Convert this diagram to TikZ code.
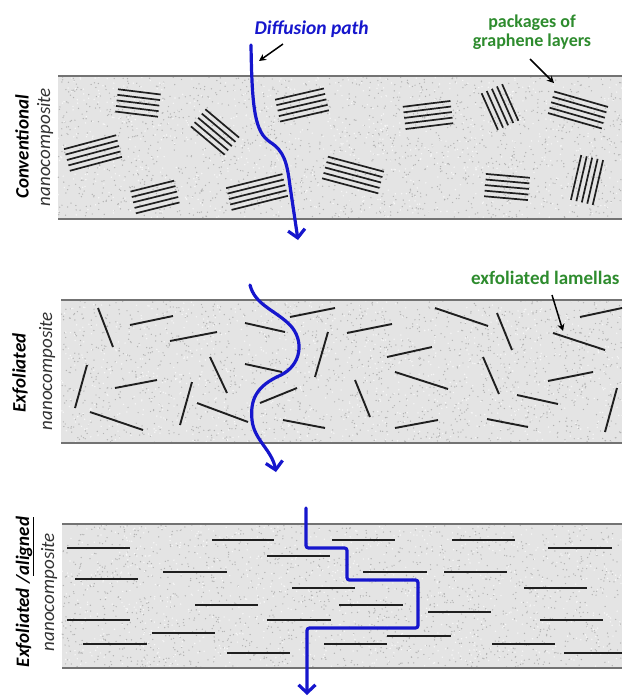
\documentclass[tikz,border=0pt]{standalone}
\usepackage{fontspec}
\setmainfont{Carlito}
\usetikzlibrary{arrows.meta}
\definecolor{pathblue}{RGB}{22,22,205}
\definecolor{labelgreen}{RGB}{46,140,46}
\definecolor{matrixfill}{RGB}{228,228,228}
\definecolor{speckgray}{RGB}{178,178,178}
\definecolor{speckwhite}{RGB}{246,246,246}
\definecolor{rimgray}{RGB}{115,115,115}
\tikzset{
  panelfill/.style={fill=matrixfill, draw=none},
  rim/.style={draw=rimgray, line width=2.6pt},
  speck/.style={fill=speckgray},
  specklight/.style={fill=speckwhite},
  lamella/.style={draw=black!88, line width=1.9pt},
  sheet/.style={draw=black!88, line width=1.7pt},
  diffusion/.style={draw=pathblue, line width=3.2pt, line cap=round,
    -{Straight Barb[length=8pt,width=17pt,line width=3.2pt]}},
  pointer/.style={draw=black, line width=1.5pt, -{Stealth[length=7pt,width=7pt]}},
  sidebold/.style={rotate=90, font=\fontsize{19}{21}\selectfont\bfseries\itshape},
  sideital/.style={rotate=90, font=\fontsize{19}{21}\selectfont\itshape, text=black!80},
  greenlabel/.style={text=labelgreen, font=\fontsize{18}{23}\selectfont\bfseries, align=center},
}
% a package of stacked graphene sheets: centre x, centre y, angle, sheet length
\newcommand\sheetstack[4]{%
  \begin{scope}[shift={(#1,#2)}, rotate=#3]
    \foreach \k in {-2,...,2}
      \draw[sheet] ({-#4/2},{\k*5.6}) -- ({#4/2},{\k*5.6});
  \end{scope}}
% a speckled matrix band between two rims
\newcommand\matrixband[3]{%
  \fill[panelfill] (#1,#2) rectangle (622,#3);
  \foreach \i in {1,...,1600}
    \fill[speck] ({#1+(622-#1)*rnd},{#2+(#3-#2)*rnd}) circle (0.7);
  \foreach \i in {1,...,900}
    \fill[specklight] ({#1+(622-#1)*rnd},{#2+(#3-#2)*rnd}) circle (0.8);
  \draw[rim] (#1,#2) -- (622,#2);
  \draw[rim] (#1,#3) -- (622,#3);}
\begin{document}
\begin{tikzpicture}[x=1pt,y=-1pt]
\pgfmathsetseed{4711}
\useasboundingbox (0,0) rectangle (622,697);
\fill[white] (0,0) rectangle (622,697);

% ---------- conventional nanocomposite ----------
\matrixband{58}{76}{219}
\sheetstack{138}{103}{-7}{43}
\sheetstack{215}{132}{-40}{44}
\sheetstack{93}{153}{15}{54}
\sheetstack{155}{197}{14}{45}
\sheetstack{257}{192}{14}{58}
\sheetstack{302}{105}{13}{50}
\sheetstack{428}{115}{7}{48}
\sheetstack{500}{107}{-66}{40}
\sheetstack{578}{110}{-16}{56}
\sheetstack{353}{175}{-15}{58}
\sheetstack{507}{187}{-5}{44}
\sheetstack{587}{180}{77}{46}

\node[sidebold] (convA) at (22,147) {Conventional};
\node[sideital] (convB) at (45,147) {nanocomposite};

\node[text=pathblue, font=\fontsize{19.5}{21}\selectfont\bfseries\itshape, anchor=west] (difflabel) at (251,29) {Diffusion path};
\coordinate (diffpoint) at (259,61);
\draw[pointer] (283,44) -- (diffpoint);

\node[greenlabel] (pkglabel) at (532,32) {packages of\\[-4pt]graphene layers};
\coordinate (pkgpoint) at (554,83);
\draw[pointer] (530,59) -- (pkgpoint);

\coordinate (topin) at (251,45);
\coordinate (topout) at (298,240);
\draw[diffusion] (topin) .. controls (252,110) and (255,132) .. (270,142)
  .. controls (284,151) and (287,162) .. (290,186) -- (topout);

% ---------- exfoliated nanocomposite ----------
\matrixband{61}{300}{443}
\foreach \a/\b/\c/\d in {
  98/308/113/347, 130/325/173/316, 170/341/217/332, 245/323/285/332,
  290/317/335/308, 87/365/75/408, 115/388/157/380, 210/357/227/393,
  245/364/282/372, 315/377/328/332, 192/382/180/425, 197/403/248/422,
  260/403/297/388, 90/412/143/430, 283/420/325/428, 347/333/392/324,
  435/308/488/326, 497/313/512/350, 580/317/622/308, 553/333/605/350,
  387/357/432/347, 395/372/448/389, 483/357/499/394, 548/381/593/372,
  355/380/370/417, 517/395/558/404, 605/432/617/388, 395/428/438/420,
  487/419/528/427}
  \draw[lamella] (\a,\b) -- (\c,\d);

\node[sidebold] (exfA) at (20,373) {Exfoliated};
\node[sideital] (exfB) at (47,371) {nanocomposite};

\node[greenlabel, font=\fontsize{19}{23}\selectfont\bfseries, anchor=east] (lamlabel) at (623,278) {exfoliated lamellas};
\coordinate (lampoint) at (563,331);
\draw[pointer] (552,295) -- (lampoint);

\coordinate (midin) at (250,285);
\coordinate (midout) at (276,472);
\draw[diffusion] (midin) .. controls (255,305) and (275,310) .. (290,325)
  .. controls (305,341) and (301,365) .. (281,375)
  .. controls (256,386) and (250,400) .. (252,420)
  .. controls (254,440) and (272,450) .. (midout);

% ---------- exfoliated / aligned nanocomposite ----------
\matrixband{62}{524}{668}
\foreach \a/\b/\y in {
  67/130/548, 75/138/579, 67/130/620, 83/147/644, 163/227/572,
  212/274/540, 195/258/605, 152/215/633, 267/330/556, 292/355/588,
  267/331/620, 227/290/653, 332/395/540, 363/427/572, 339/403/605,
  387/451/636, 324/387/644, 452/515/540, 444/507/572, 428/491/612,
  492/555/644, 548/612/548, 524/587/588, 540/603/620, 564/622/653}
  \draw[lamella] (\a,\y) -- (\b,\y);

\node[sidebold] (aliA) at (25,592) {Exfoliated /\underline{aligned}};
\node[sideital] (aliB) at (49,592) {nanocomposite};

\coordinate (lowin) at (306,508);
\coordinate (lowout) at (307,695);
\draw[diffusion, rounded corners=2.5pt] (lowin) -- (306,548) -- (347,548) -- (347,580)
  -- (418,580) -- (418,628) -- (307,628) -- (lowout);
\end{tikzpicture}
\end{document}
